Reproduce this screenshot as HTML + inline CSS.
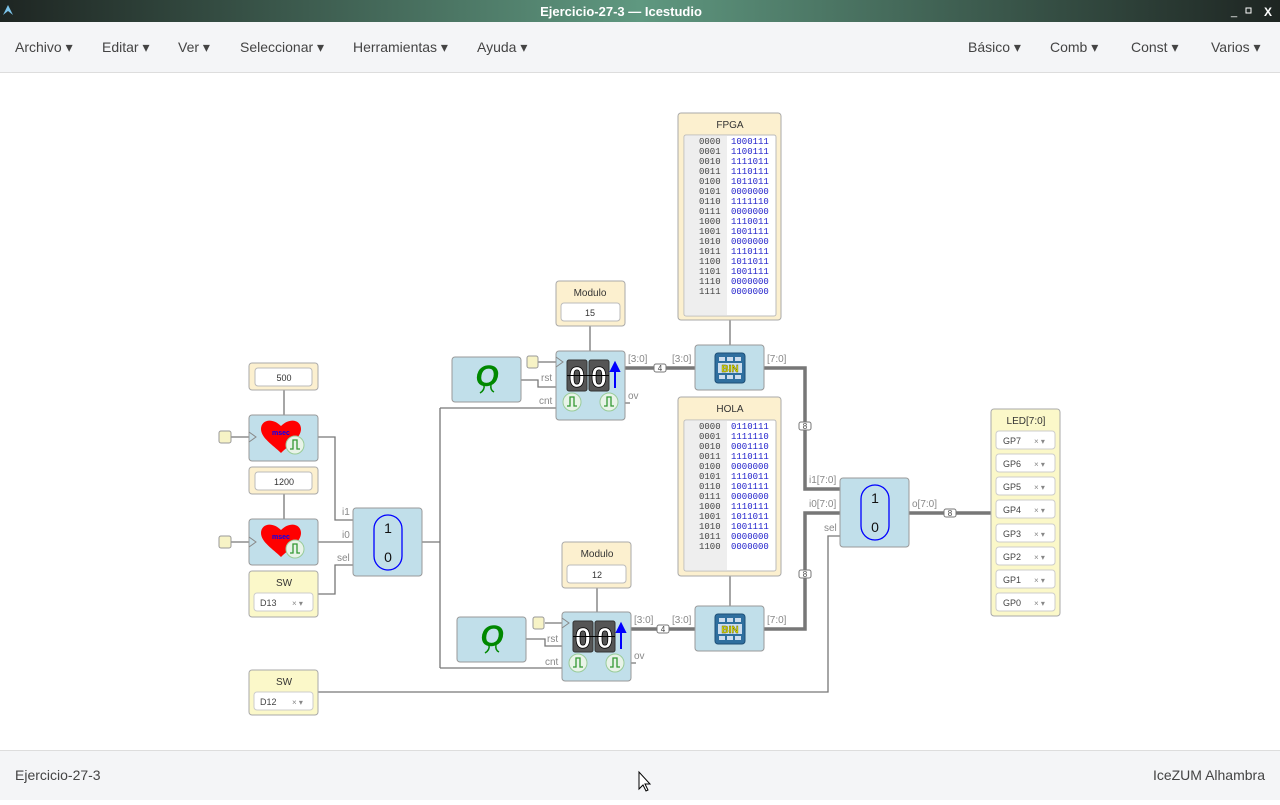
<!DOCTYPE html>
<html><head><meta charset="utf-8"><style>
body{margin:0;width:1280px;height:800px;overflow:hidden;font-family:"Liberation Sans",sans-serif;background:#fff}
svg text{font-family:"Liberation Sans",sans-serif}
.m{font-family:"Liberation Mono",monospace;font-size:9px}
</style></head><body>
<svg width="1280" height="800" xmlns="http://www.w3.org/2000/svg">
<defs>
<linearGradient id="tb" x1="0" x2="1"><stop offset="0" stop-color="#1e2522"/><stop offset="0.5" stop-color="#5f9880"/><stop offset="1" stop-color="#1e2522"/></linearGradient>
<g id="pulse"><circle r="9" fill="#e8f3e8" stroke="#9c9"/><path d="M-5 4 H-2 V-5 H2 V4 H5" fill="none" stroke="#393" stroke-width="1.3"/></g>
<g id="heart"><path d="M0 19 C-8 11 -20 4 -20 -5 C-20 -14 -9 -17 0 -8 C9 -17 20 -14 20 -5 C20 4 8 11 0 19Z" fill="#f00"/><text x="0" y="1" font-size="7" font-weight="bold" fill="#00f" text-anchor="middle">msec</text></g>
<g id="bin"><rect x="-15" y="-15" width="30" height="30" rx="3" fill="#2f6f9f" stroke="#1d4f77"/><g fill="#cde"><rect x="-11" y="-11" width="6" height="4"/><rect x="-3" y="-11" width="6" height="4"/><rect x="5" y="-11" width="6" height="4"/><rect x="-11" y="7" width="6" height="4"/><rect x="-3" y="7" width="6" height="4"/><rect x="5" y="7" width="6" height="4"/></g><rect x="-12" y="-5" width="24" height="10" fill="#cde"/><text x="0" y="4" font-size="10" font-weight="bold" fill="#ee0" stroke="#550" stroke-width="0.4" text-anchor="middle">BIN</text></g>
<g id="q"><text x="0" y="10" font-size="30" font-weight="bold" font-style="italic" fill="#080" text-anchor="middle" font-family="Liberation Serif">O</text><path d="M-3 9 Q-2 14 -7 17 M4 9 Q3 14 7 16" stroke="#080" stroke-width="1.5" fill="none"/></g>
<g id="cnt"><rect x="0" y="0" width="20" height="31" rx="2" fill="#555" stroke="#333"/><rect x="22" y="0" width="20" height="31" rx="2" fill="#555" stroke="#333"/><text x="10" y="27" font-size="29" font-weight="bold" fill="#fff" stroke="#000" stroke-width="0.8" text-anchor="middle">0</text><text x="32" y="27" font-size="29" font-weight="bold" fill="#fff" stroke="#000" stroke-width="0.8" text-anchor="middle">0</text><line x1="0" y1="15.5" x2="42" y2="15.5" stroke="#000"/><path d="M48 28 V6 M44 11 L48 3 L52 11Z" stroke="#00f" stroke-width="2" fill="#00f"/></g>
</defs>
<rect width="1280" height="22" fill="url(#tb)"/>
<path d="M3 15 L8 5 L13 15 L8 11Z" fill="#7cc4ea"/>
<text x="621" y="16" font-size="13" font-weight="bold" fill="#fff" text-anchor="middle" font-family="DejaVu Sans">Ejercicio-27-3 — Icestudio</text>
<text x="1231" y="15" font-size="11" fill="#fff">_</text><rect x="1246" y="8" width="5" height="5" fill="none" stroke="#fff"/><text x="1264" y="16" font-size="12" font-weight="bold" fill="#fff">X</text>
<rect y="22" width="1280" height="50" fill="#f4f5f7"/><line x1="0" y1="72.5" x2="1280" y2="72.5" stroke="#ddd"/>
<g font-size="14" fill="#444">
<text x="15" y="52">Archivo ▾</text><text x="102" y="52">Editar ▾</text><text x="178" y="52">Ver ▾</text><text x="240" y="52">Seleccionar ▾</text><text x="353" y="52">Herramientas ▾</text><text x="477" y="52">Ayuda ▾</text>
<text x="968" y="52">Básico ▾</text><text x="1050" y="52">Comb ▾</text><text x="1131" y="52">Const ▾</text><text x="1211" y="52">Varios ▾</text>
</g>
<rect y="751" width="1280" height="49" fill="#f4f5f7"/><line x1="0" y1="750.5" x2="1280" y2="750.5" stroke="#ddd"/>
<text x="15" y="780" font-size="14" fill="#444">Ejercicio-27-3</text><text x="1265" y="780" font-size="14" fill="#444" text-anchor="end">IceZUM Alhambra</text>
<path d="M639 772 V789 L643 785 L646 791 L648 790 L645 784 L650 784Z" fill="#fff" stroke="#000"/>
<g stroke="#777" stroke-width="1.3" fill="none">
<path d="M284 390 V415 M284 494 V519 M231 437 H249 M231 542 H249"/>
<path d="M318 437 H335 V520 H353 M318 542 H353 M318 594 H335 V565 H353"/>
<path d="M422 542 H440 M440 408 V668 M440 408 H556 M440 668 H562"/>
<path d="M538 362 H556 M521 380 H538 V387 H556 M590 326 V351 M625 403 H630"/>
<path d="M545 623 H562 M526 639 H545 V646 H562 M597 588 V612 M631 663 H636"/>
<path d="M730 320 V345 M730 576 V606"/>
<path d="M318 692 H828 V536 H840"/>
</g>
<g stroke="#777" stroke-width="3.5" fill="none">
<path d="M625 368 H695 M631 629 H695 M764 368 H805 V489 H840 M764 629 H805 V513 H840 M909 513 H991"/>
</g>
<g font-size="8" text-anchor="middle" fill="#444">
<rect x="654" y="364" width="12" height="8" rx="2" fill="#fff" stroke="#777"/><text x="660" y="371">4</text>
<rect x="657" y="625" width="12" height="8" rx="2" fill="#fff" stroke="#777"/><text x="663" y="632">4</text>
<rect x="799" y="422" width="12" height="8" rx="2" fill="#fff" stroke="#777"/><text x="805" y="429">8</text>
<rect x="799" y="570" width="12" height="8" rx="2" fill="#fff" stroke="#777"/><text x="805" y="577">8</text>
<rect x="944" y="509" width="12" height="8" rx="2" fill="#fff" stroke="#777"/><text x="950" y="516">8</text>
</g>
<g font-size="10" fill="#888">
<text x="342" y="515">i1</text><text x="342" y="538">i0</text><text x="337" y="561">sel</text>
<text x="541" y="381">rst</text><text x="539" y="404">cnt</text><text x="628" y="399">ov</text><text x="628" y="362">[3:0]</text><text x="672" y="362">[3:0]</text><text x="767" y="362">[7:0]</text>
<text x="547" y="642">rst</text><text x="545" y="665">cnt</text><text x="634" y="659">ov</text><text x="634" y="623">[3:0]</text><text x="672" y="623">[3:0]</text><text x="767" y="623">[7:0]</text>
<text x="809" y="483">i1[7:0]</text><text x="809" y="507">i0[7:0]</text><text x="824" y="531">sel</text><text x="912" y="507">o[7:0]</text>
</g>
<g fill="#f7f3c6" stroke="#999"><rect x="219" y="431" width="12" height="12" rx="2"/><rect x="219" y="536" width="12" height="12" rx="2"/><rect x="527" y="356" width="11" height="12" rx="2"/><rect x="533" y="617" width="11" height="12" rx="2"/></g>
<g stroke="#aaa" fill="#fcf0cf">
<rect x="249" y="363" width="69" height="27" rx="3"/><rect x="249" y="467" width="69" height="27" rx="3"/>
<rect x="556" y="281" width="69" height="45" rx="3"/><rect x="562" y="542" width="69" height="46" rx="3"/>
<rect x="678" y="113" width="103" height="207" rx="3"/><rect x="678" y="397" width="103" height="179" rx="3"/>
</g>
<g stroke="#bbb" fill="#fff">
<rect x="255" y="368" width="57" height="18" rx="3"/><rect x="255" y="472" width="57" height="18" rx="3"/>
<rect x="561" y="303" width="59" height="18" rx="3"/><rect x="567" y="565" width="59" height="18" rx="3"/>
<rect x="684" y="135" width="92" height="181" rx="2"/><rect x="684" y="420" width="92" height="151" rx="2"/>
</g>
<rect x="685" y="136" width="42" height="179" fill="#eee"/><rect x="685" y="421" width="42" height="149" fill="#eee"/>
<g class="m" fill="#333" text-anchor="middle"><text x="284" y="381">500</text><text x="284" y="485">1200</text><text x="590" y="316">15</text><text x="597" y="578">12</text></g>
<g font-size="10" fill="#333" text-anchor="middle"><text x="590" y="296">Modulo</text><text x="597" y="557">Modulo</text><text x="730" y="128">FPGA</text><text x="730" y="412">HOLA</text></g>
<text class="m" fill="#444"><tspan x="699" y="144">0000</tspan><tspan x="699" y="154">0001</tspan><tspan x="699" y="164">0010</tspan><tspan x="699" y="174">0011</tspan><tspan x="699" y="184">0100</tspan><tspan x="699" y="194">0101</tspan><tspan x="699" y="204">0110</tspan><tspan x="699" y="214">0111</tspan><tspan x="699" y="224">1000</tspan><tspan x="699" y="234">1001</tspan><tspan x="699" y="244">1010</tspan><tspan x="699" y="254">1011</tspan><tspan x="699" y="264">1100</tspan><tspan x="699" y="274">1101</tspan><tspan x="699" y="284">1110</tspan><tspan x="699" y="294">1111</tspan></text>
<text class="m" fill="#22c"><tspan x="731" y="144">1000111</tspan><tspan x="731" y="154">1100111</tspan><tspan x="731" y="164">1111011</tspan><tspan x="731" y="174">1110111</tspan><tspan x="731" y="184">1011011</tspan><tspan x="731" y="194">0000000</tspan><tspan x="731" y="204">1111110</tspan><tspan x="731" y="214">0000000</tspan><tspan x="731" y="224">1110011</tspan><tspan x="731" y="234">1001111</tspan><tspan x="731" y="244">0000000</tspan><tspan x="731" y="254">1110111</tspan><tspan x="731" y="264">1011011</tspan><tspan x="731" y="274">1001111</tspan><tspan x="731" y="284">0000000</tspan><tspan x="731" y="294">0000000</tspan></text>
<text class="m" fill="#444"><tspan x="699" y="429">0000</tspan><tspan x="699" y="439">0001</tspan><tspan x="699" y="449">0010</tspan><tspan x="699" y="459">0011</tspan><tspan x="699" y="469">0100</tspan><tspan x="699" y="479">0101</tspan><tspan x="699" y="489">0110</tspan><tspan x="699" y="499">0111</tspan><tspan x="699" y="509">1000</tspan><tspan x="699" y="519">1001</tspan><tspan x="699" y="529">1010</tspan><tspan x="699" y="539">1011</tspan><tspan x="699" y="549">1100</tspan></text>
<text class="m" fill="#22c"><tspan x="731" y="429">0110111</tspan><tspan x="731" y="439">1111110</tspan><tspan x="731" y="449">0001110</tspan><tspan x="731" y="459">1110111</tspan><tspan x="731" y="469">0000000</tspan><tspan x="731" y="479">1110011</tspan><tspan x="731" y="489">1001111</tspan><tspan x="731" y="499">0000000</tspan><tspan x="731" y="509">1110111</tspan><tspan x="731" y="519">1011011</tspan><tspan x="731" y="529">1001111</tspan><tspan x="731" y="539">0000000</tspan><tspan x="731" y="549">0000000</tspan></text>
<g fill="#c1dfea" stroke="#999">
<rect x="249" y="415" width="69" height="46" rx="3"/><rect x="249" y="519" width="69" height="46" rx="3"/>
<rect x="353" y="508" width="69" height="68" rx="3"/><rect x="452" y="357" width="69" height="45" rx="3"/>
<rect x="457" y="617" width="69" height="45" rx="3"/><rect x="556" y="351" width="69" height="69" rx="3"/>
<rect x="562" y="612" width="69" height="69" rx="3"/><rect x="695" y="345" width="69" height="45" rx="3"/>
<rect x="695" y="606" width="69" height="45" rx="3"/><rect x="840" y="478" width="69" height="69" rx="3"/>
</g>
<g fill="none" stroke="#888"><path d="M249 432 L256 437 L249 442 M249 537 L256 542 L249 547 M556 357 L563 362 L556 367 M562 618 L569 623 L562 628"/></g>
<use href="#heart" x="281" y="434"/><use href="#pulse" x="295" y="445"/>
<use href="#heart" x="281" y="538"/><use href="#pulse" x="295" y="549"/>
<use href="#q" x="487" y="376"/><use href="#q" x="492" y="636"/>
<use href="#cnt" x="567" y="360"/><use href="#pulse" x="572" y="402"/><use href="#pulse" x="609" y="402"/>
<use href="#cnt" x="573" y="621"/><use href="#pulse" x="578" y="663"/><use href="#pulse" x="615" y="663"/>
<use href="#bin" x="730" y="368"/><use href="#bin" x="730" y="629"/>
<g fill="none" stroke="#00f" stroke-width="1.3"><rect x="374" y="515" width="28" height="55" rx="14"/><rect x="861" y="485" width="28" height="55" rx="14"/></g>
<g font-size="14" fill="#111" text-anchor="middle"><text x="388" y="533">1</text><text x="388" y="562">0</text><text x="875" y="503">1</text><text x="875" y="532">0</text></g>
<g fill="#fbf8c9" stroke="#aaa"><rect x="249" y="571" width="69" height="46" rx="3"/><rect x="249" y="670" width="69" height="45" rx="3"/><rect x="991" y="409" width="69" height="207" rx="3"/></g>
<g font-size="10" fill="#333" text-anchor="middle"><text x="284" y="586">SW</text><text x="284" y="685">SW</text><text x="1026" y="424">LED[7:0]</text></g>
<g fill="#fff" stroke="#ccc"><rect x="254" y="593" width="59" height="18" rx="3"/><rect x="254" y="692" width="59" height="18" rx="3"/>
<rect x="996" y="431" width="59" height="18" rx="3"/><rect x="996" y="454" width="59" height="18" rx="3"/><rect x="996" y="477" width="59" height="18" rx="3"/><rect x="996" y="500" width="59" height="18" rx="3"/><rect x="996" y="524" width="59" height="18" rx="3"/><rect x="996" y="547" width="59" height="18" rx="3"/><rect x="996" y="570" width="59" height="18" rx="3"/><rect x="996" y="593" width="59" height="18" rx="3"/></g>
<g font-size="9" fill="#444"><text x="260" y="606">D13</text><text x="260" y="705">D12</text>
<text x="1003" y="444">GP7</text><text x="1003" y="467">GP6</text><text x="1003" y="490">GP5</text><text x="1003" y="513">GP4</text><text x="1003" y="537">GP3</text><text x="1003" y="560">GP2</text><text x="1003" y="583">GP1</text><text x="1003" y="606">GP0</text></g>
<g font-size="8" fill="#888"><text x="292" y="606">× ▾</text><text x="292" y="705">× ▾</text>
<text x="1034" y="444">× ▾</text><text x="1034" y="467">× ▾</text><text x="1034" y="490">× ▾</text><text x="1034" y="513">× ▾</text><text x="1034" y="537">× ▾</text><text x="1034" y="560">× ▾</text><text x="1034" y="583">× ▾</text><text x="1034" y="606">× ▾</text></g>
</svg>
</body></html>
